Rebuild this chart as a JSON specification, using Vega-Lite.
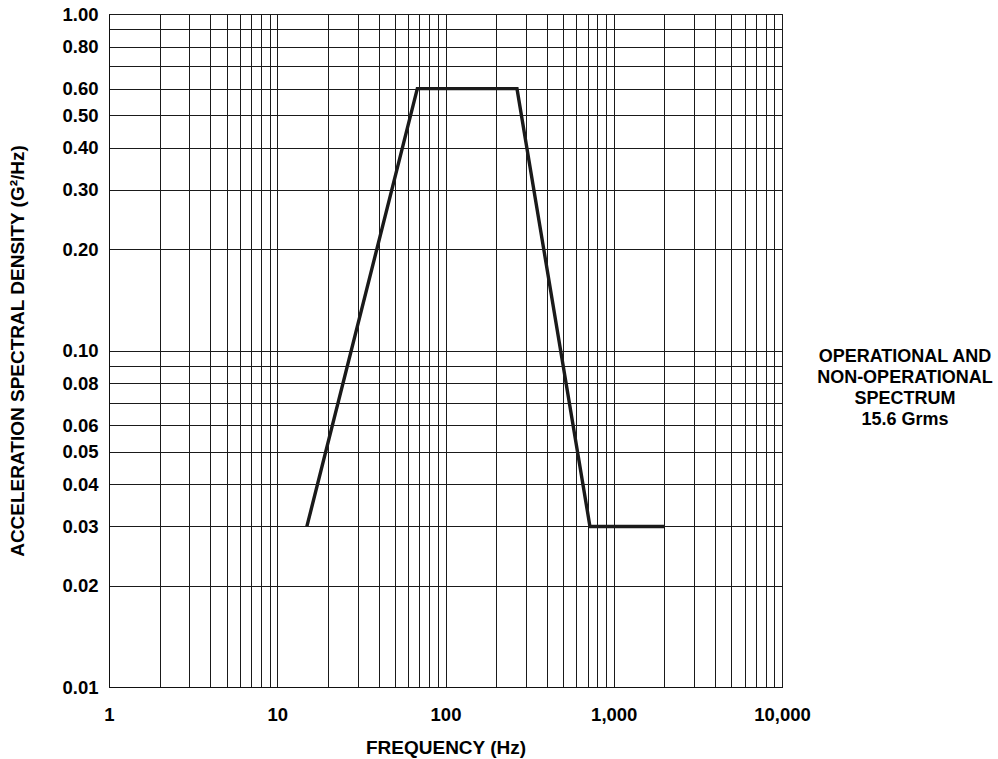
{
  "$schema": "https://vega.github.io/schema/vega-lite/v6.json",
  "autosize": "none",
  "width": 673,
  "height": 673,
  "padding": {"left": 109, "top": 14, "right": 216, "bottom": 72},
  "background": "white",
  "config": {
    "font": "Liberation Sans",
    "view": {"stroke": "#111", "strokeWidth": 1},
    "axis": {
      "labelFont": "Liberation Sans",
      "labelFontWeight": "bold",
      "labelFontSize": 18.5,
      "labelColor": "#000",
      "titleFont": "Liberation Sans",
      "titleFontWeight": "bold",
      "titleFontSize": 19,
      "titleColor": "#000",
      "ticks": false,
      "domainColor": "#111",
      "gridColor": "#1a1a1a",
      "gridOpacity": 1,
      "gridWidth": 1,
      "labelOverlap": false,
      "labelBound": false,
      "labelFlush": false
    }
  },
  "datasets": {
    "curve": [
      {"freq": 15, "asd": 0.03},
      {"freq": 68, "asd": 0.6},
      {"freq": 266, "asd": 0.6},
      {"freq": 722, "asd": 0.03},
      {"freq": 2000, "asd": 0.03}
    ],
    "note": [
      {"freq": 53800, "asd": 0.0956, "label": "OPERATIONAL AND|NON-OPERATIONAL|SPECTRUM|15.6 Grms"}
    ]
  },
  "layer": [
    {
      "data": {"name": "curve"},
      "mark": {"type": "line", "color": "#1a1a1a", "strokeWidth": 3.4, "strokeJoin": "miter", "strokeCap": "butt"},
      "encoding": {
        "x": {
          "field": "freq",
          "type": "quantitative",
          "scale": {"type": "log", "domain": [1, 10000], "nice": false},
          "axis": {
            "title": "FREQUENCY (Hz)",
            "values": [1,2,3,4,5,6,7,8,9,10,20,30,40,50,60,70,80,90,100,200,300,400,500,600,700,800,900,1000,2000,3000,4000,5000,6000,7000,8000,9000,10000],
            "labelExpr": "indexof([1,10,100,1000,10000], datum.value) >= 0 ? format(datum.value, ',') : ''",
            "labelPadding": 18,
            "titlePadding": 15
          }
        },
        "y": {
          "field": "asd",
          "type": "quantitative",
          "scale": {"type": "log", "domain": [0.01, 1], "nice": false},
          "axis": {
            "title": "ACCELERATION SPECTRAL DENSITY (G²/Hz)",
            "values": [0.01,0.02,0.03,0.04,0.05,0.06,0.07,0.08,0.09,0.1,0.2,0.3,0.4,0.5,0.6,0.7,0.8,0.9,1],
            "labelExpr": "indexof(['0.07','0.09','0.70','0.90'], format(datum.value,'.2f')) >= 0 ? '' : format(datum.value,'.2f')",
            "labelPadding": 11,
            "titlePadding": 34
          }
        }
      }
    },
    {
      "data": {"name": "note"},
      "mark": {"type": "text", "font": "Liberation Sans", "fontWeight": "bold", "fontSize": 18, "lineHeight": 21, "lineBreak": "|", "align": "center", "baseline": "middle", "color": "#000", "clip": false},
      "encoding": {
        "x": {"field": "freq", "type": "quantitative"},
        "y": {"field": "asd", "type": "quantitative"},
        "text": {"field": "label"}
      }
    }
  ]
}
